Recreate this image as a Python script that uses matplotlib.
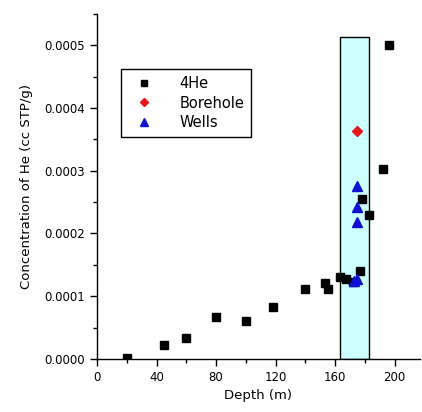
import matplotlib
matplotlib.use("Agg")
import matplotlib.pyplot as plt
from matplotlib.patches import Rectangle
from matplotlib.ticker import MultipleLocator, FormatStrFormatter

he_depth = [20, 45, 60, 80, 100, 118, 140, 153, 155, 163, 167, 172, 177, 178, 183, 192, 196]
he_conc = [0.000002, 0.000022, 0.000034, 0.000066, 0.000061, 0.000083, 0.000112, 0.000121,
           0.000112, 0.000130, 0.000128, 0.000123, 0.000140, 0.000255, 0.000230, 0.000303, 0.000500]
bore_depth = [174.5]
bore_conc = [0.000363]
wells_depth = [174.5, 174.5, 174.5, 174.5, 172.5]
wells_conc = [0.000275, 0.000242, 0.000218, 0.000128, 0.000124]
zone_x = [163.5, 183.0]
zone_top = 0.000514

plt.rcParams['font.family'] = ['DejaVu Sans']
fig = plt.figure(figsize=(4.22, 4.12), dpi=100)
ax = fig.add_axes([0.23, 0.129, 0.765, 0.837])

ax.add_patch(Rectangle((zone_x[0], 0), zone_x[1] - zone_x[0], zone_top,
                       facecolor='#ccffff', edgecolor='black', linewidth=1.0, zorder=1))

ax.plot(he_depth, he_conc, 's', color='black', markersize=5.5, label='4He', zorder=3)
ax.plot(bore_depth, bore_conc, 'D', color='#e8141c', markersize=5, label='Borehole', zorder=3)
ax.plot(wells_depth, wells_conc, '^', color='#1010d0', markersize=7, label='Wells', zorder=4)

ax.set_xlim(0, 217)
ax.set_ylim(0, 0.00055)
ax.xaxis.set_major_locator(MultipleLocator(40))
ax.xaxis.set_minor_locator(MultipleLocator(20))
ax.yaxis.set_major_locator(MultipleLocator(0.0001))
ax.yaxis.set_minor_locator(MultipleLocator(0.00005))
ax.yaxis.set_major_formatter(FormatStrFormatter('%.4f'))

for s in ['top', 'right']:
    ax.spines[s].set_visible(False)
for s in ['left', 'bottom']:
    ax.spines[s].set_linewidth(1.0)
ax.tick_params(which='major', direction='out', length=5, width=1, labelsize=8.5, colors='black')
ax.tick_params(which='minor', direction='out', length=3, width=1)

ax.set_xlabel('Depth (m)', fontsize=9.5, labelpad=4)
ax.set_ylabel('Concentration of He (cc STP/g)', fontsize=9.5, labelpad=8)

leg = ax.legend(loc='upper left', bbox_to_anchor=(0.074, 0.841), borderaxespad=0,
                fontsize=10.5, frameon=True, fancybox=False, edgecolor='black', framealpha=1,
                handletextpad=1.3, borderpad=0.5, labelspacing=0.3, handlelength=2.2,
                markerscale=0.85)
leg.get_frame().set_linewidth(1.0)

fig.savefig('out.png', dpi=100)
